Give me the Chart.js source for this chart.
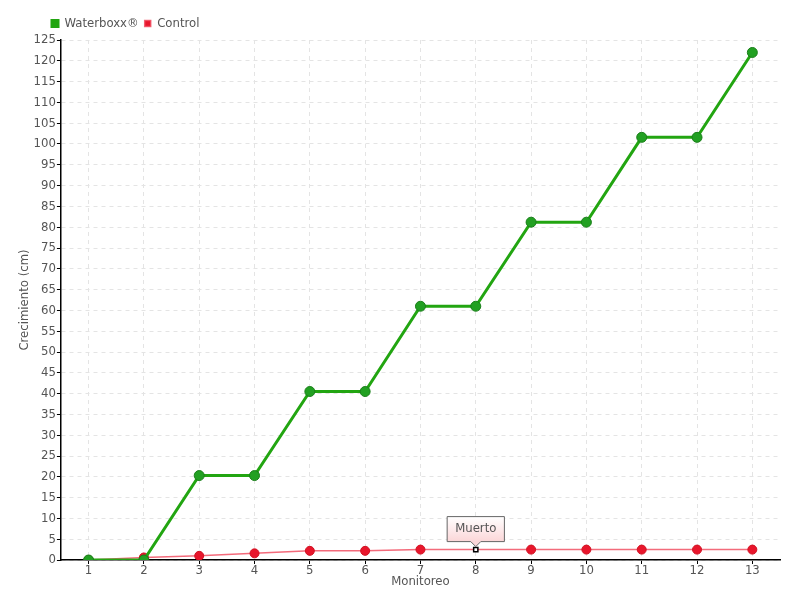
<!DOCTYPE html>
<html>
<head>
<meta charset="utf-8">
<script src="https://cdn.jsdelivr.net/npm/chart.js@4/dist/chart.umd.min.js"></script>
<style>
  html, body { margin: 0; padding: 0; background: #fff; }
  #wrap { width: 800px; height: 600px; }
</style>
</head>
<body>
<div id="wrap"><canvas id="chart"></canvas></div>
<script>
const labels = ["1", "2", "3", "4", "5", "6", "7", "8", "9", "10", "11", "12", "13"];
const waterboxx = [0, 0, 20.3, 20.3, 40.5, 40.5, 61, 61, 81.2, 81.2, 101.6, 101.6, 122];
const control = [0, 0.6, 1, 1.6, 2.2, 2.2, 2.5, 2.5, 2.5, 2.5, 2.5, 2.5, 2.5];
// punto marcado en la serie control
const deadIndex = 7;
const deadLabel = "Muerto";

const FONT = "'DejaVu Sans Condensed', sans-serif";
const TXT = "#555";

// etiqueta "Muerto" encima del punto
const annotate = {
  id: "annotate",
  afterDatasetsDraw(chart) {
    const meta = chart.getDatasetMeta(1);
    const pt = meta.data[deadIndex];
    if (!pt) return;
    const ctx = chart.ctx;
    ctx.save();
    ctx.font = "13px " + FONT;
    const w = ctx.measureText(deadLabel).width + 16;
    const h = 25;
    const x0 = pt.x - w / 2, y1 = pt.y - 8, y0 = y1 - h;
    const g = ctx.createLinearGradient(0, y0, 0, y1);
    g.addColorStop(0, "#ffffff");
    g.addColorStop(1, "#fbd6d8");
    ctx.beginPath();
    ctx.moveTo(x0, y0);
    ctx.lineTo(x0 + w, y0);
    ctx.lineTo(x0 + w, y1);
    ctx.lineTo(pt.x + 5, y1);
    ctx.lineTo(pt.x, y1 + 5);
    ctx.lineTo(pt.x - 5, y1);
    ctx.lineTo(x0, y1);
    ctx.closePath();
    ctx.fillStyle = g;
    ctx.fill();
    ctx.strokeStyle = "#666";
    ctx.lineWidth = 1;
    ctx.stroke();
    ctx.fillStyle = TXT;
    ctx.textAlign = "center";
    ctx.textBaseline = "middle";
    ctx.fillText(deadLabel, pt.x, y0 + h / 2);
    ctx.restore();
  }
};

// la leyenda empieza a la derecha del título del eje
const legendShift = {
  id: "legendShift",
  afterLayout(chart) {
    if (chart.legend) {
      chart.legend.left += 29;
      chart.legend.right += 29;
    }
  }
};

const styles = control.map((v, i) => i === deadIndex ? "rect" : "circle");

new Chart(document.getElementById("chart"), {
  type: "line",
  data: {
    labels: labels,
    datasets: [
      {
        label: "Waterboxx®",
        data: waterboxx,
        borderColor: "#22a511",
        backgroundColor: "#22a511",
        borderWidth: 3,
        pointRadius: 5,
        pointBackgroundColor: "#22a022",
        pointBorderColor: "#1a7f1a",
        pointBorderWidth: 1,
        tension: 0
      },
      {
        label: "Control",
        data: control,
        borderColor: "rgba(240,70,90,0.8)",
        backgroundColor: "#e8162c",
        borderWidth: 1.5,
        pointRadius: control.map((v, i) => i === deadIndex ? 3 : 4.5),
        pointStyle: styles,
        pointBackgroundColor: control.map((v, i) => i === deadIndex ? "#fff" : "#e8162c"),
        pointBorderColor: control.map((v, i) => i === deadIndex ? "#000" : "#d01020"),
        pointBorderWidth: control.map((v, i) => i === deadIndex ? 1.5 : 1),
        tension: 0
      }
    ]
  },
  options: {
    responsive: true,
    maintainAspectRatio: false,
    animation: false,
    layout: { padding: { left: 17, right: 20, top: 11, bottom: 12 } },
    plugins: {
      legend: {
        position: "top",
        align: "start",
        labels: {
          boxWidth: 6,
          boxHeight: 6,
          padding: 6,
          color: TXT,
          font: { family: FONT, size: 13 }
        }
      },
      tooltip: { enabled: false }
    },
    scales: {
      x: {
        offset: true,
        title: { display: true, text: "Monitoreo", color: TXT, padding: { top: -2, bottom: 0 }, font: { family: FONT, size: 13, lineHeight: 1 } },
        ticks: { color: TXT, padding: 0, font: { family: FONT, size: 13, lineHeight: 1 }, maxRotation: 0 },
        grid: { color: "#e4e4e4", tickColor: "#000", tickLength: 4, offset: false },
        border: { color: "#000", width: 1.5, dash: [4, 4] }
      },
      y: {
        min: 0,
        max: 125,
        title: { display: true, text: "Crecimiento (cm)", color: TXT, padding: 0, font: { family: FONT, size: 13 } },
        ticks: { stepSize: 5, color: TXT, padding: 1, font: { family: FONT, size: 13 } },
        grid: { color: "#e4e4e4", tickColor: "#000", tickLength: 4 },
        border: { color: "#000", width: 1.5, dash: [4, 4] }
      }
    }
  },
  plugins: [annotate, legendShift]
});
</script>
</body>
</html>
